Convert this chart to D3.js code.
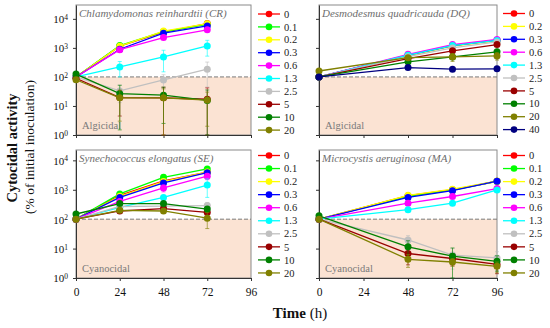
<!DOCTYPE html>
<html>
<head>
<meta charset="utf-8">
<style>
  body { margin: 0; background: #fff; }
  text { font-family: "Liberation Serif", "DejaVu Serif", serif; }
</style>
</head>
<body>
<script src="https://cdn.jsdelivr.net/npm/d3@7"></script>
<script>
// ---- data ----
var concAll = ['0', '0.1', '0.2', '0.3', '0.6', '1.3', '2.5', '5', '10', '20'];
var concDQ = ['0', '0.2', '0.3', '0.6', '1.3', '2.5', '5', '10', '20', '40'];
var timeCR = [0, 24, 48, 72];
var timeDQ = [0, 48, 72, 96];
var timeSE = [0, 24, 48, 72];
var timeMA = [0, 48, 72, 96];
var xTicks = [0, 24, 48, 72, 96];
var yTicks = [1, 10, 100, 1000, 10000];

// Chlamydomonas reinhardtii
var valCR = [
  [100, 1150, 3500, 6900],
  [100, 1200, 3600, 6500],
  [100, 1150, 3800, 6800],
  [100, 900, 3200, 5700],
  [100, 870, 2260, 4200],
  [100, 220, 490, 1170],
  [100, 33, 79, 185],
  [90, 19.5, 19, 17],
  [125, 26.5, 23.5, 15.5],
  [80, 19, 19, 16]
];
var errCR = [
  [0, 150, 400, 800],
  [0, 100, 300, 600],
  [0, 100, 300, 500],
  [0, 100, 300, 500],
  [0, 100, 300, 400],
  [0, 120, 340, 650],
  [0, 20, 40, 140],
  [0, 15, 25, 25],
  [10, 25, 21, 20],
  [5, 16, 20, 14]
];

// Desmodesmus quadricauda
var valDQ = [
  [100, 550, 1200, 1800],
  [100, 530, 1150, 1750],
  [100, 560, 1200, 1850],
  [100, 600, 1300, 1950],
  [100, 560, 1200, 1800],
  [100, 500, 1000, 1600],
  [100, 430, 790, 1300],
  [100, 330, 490, 730],
  [160, 460, 490, 530],
  [100, 210, 185, 190]
];
var errDQ = [
  [0, 0, 0, 0],
  [0, 0, 0, 0],
  [0, 0, 0, 0],
  [0, 60, 100, 150],
  [0, 50, 100, 150],
  [0, 0, 0, 0],
  [0, 0, 0, 0],
  [0, 0, 0, 100],
  [0, 0, 150, 150],
  [0, 0, 0, 0]
];

// Synechococcus elongatus
var valSE = [
  [100, 650, 2000, 4000],
  [100, 720, 2650, 5100],
  [100, 600, 1900, 4000],
  [100, 550, 1700, 3800],
  [100, 400, 1150, 2900],
  [100, 250, 550, 1450],
  [100, 270, 280, 290],
  [100, 190, 230, 170],
  [150, 340, 340, 220],
  [100, 200, 190, 108]
];
var errSE = [
  [0, 0, 0, 0],
  [0, 0, 600, 600],
  [0, 0, 0, 0],
  [0, 0, 0, 0],
  [0, 0, 300, 700],
  [0, 0, 0, 900],
  [0, 0, 0, 80],
  [0, 0, 0, 0],
  [0, 0, 0, 50],
  [0, 0, 30, 60]
];

// Microcystis aeruginosa
var valMA = [
  [100, 630, 1000, 1950],
  [100, 600, 980, 1950],
  [100, 650, 1050, 1950],
  [100, 550, 930, 1950],
  [100, 350, 590, 1100],
  [100, 210, 350, 990],
  [100, 19.6, 6, 4.8],
  [100, 6.8, 4.6, 2.9],
  [130, 11.5, 5.5, 3.7],
  [100, 4.3, 3.5, 2.5]
];
var errMA = [
  [0, 0, 0, 0],
  [0, 0, 0, 0],
  [0, 0, 0, 0],
  [0, 0, 0, 0],
  [0, 0, 0, 0],
  [0, 0, 0, 0],
  [0, 8, 4, 3],
  [0, 4, 2, 1.5],
  [0, 7, 5, 2],
  [0, 2, 1, 1]
];

// ---- styles ----
var colors = {
  '0': '#ff0000', '0.1': '#00ff00', '0.2': '#ffff00', '0.3': '#0000ff',
  '0.6': '#ff00ff', '1.3': '#00ffff', '2.5': '#c0c0c0', '5': '#990000',
  '10': '#008000', '20': '#808000', '40': '#000080'
};
var SHADE = '#fbe3d3';

var svg = d3.select('body').append('svg')
  .attr('width', 550).attr('height', 328);

var panels = [
  { title: 'Chlamydomonas reinhardtii (CR)', zone: 'Algicidal', conc: concAll, time: timeCR, val: valCR, err: errCR,
    x0: 76, x1: 251, y0: 5, y1: 135, yMax: 3e4, yLabels: true, xLabels: false, legX: 258, legY: 14, legStep: 12.9 },
  { title: 'Desmodesmus quadricauda (DQ)', zone: 'Algicidal', conc: concDQ, time: timeDQ, val: valDQ, err: errDQ,
    x0: 319, x1: 497, y0: 5, y1: 135, yMax: 3e4, yLabels: false, xLabels: false, legX: 503, legY: 13.5, legStep: 12.9 },
  { title: 'Synechococcus elongatus (SE)', zone: 'Cyanocidal', conc: concAll, time: timeSE, val: valSE, err: errSE,
    x0: 76, x1: 251, y0: 150, y1: 278, yMax: 2.25e4, yLabels: true, xLabels: true, legX: 258, legY: 155.5, legStep: 13.05 },
  { title: 'Microcystis aeruginosa (MA)', zone: 'Cyanocidal', conc: concAll, time: timeMA, val: valMA, err: errMA,
    x0: 319, x1: 497, y0: 150, y1: 278, yMax: 2.25e4, yLabels: false, xLabels: true, legX: 503, legY: 155.5, legStep: 13.05 }
];

panels.forEach(function(p) {
  var x = d3.scaleLinear().domain([0, 96]).range([p.x0, p.x1]);
  var y = d3.scaleLog().domain([1, p.yMax]).range([p.y1, p.y0]).clamp(true);
  var g = svg.append('g');

  // shaded zone below 100 %
  g.append('rect')
    .attr('x', p.x0).attr('y', y(100))
    .attr('width', p.x1 - p.x0).attr('height', p.y1 - y(100))
    .attr('fill', SHADE);

  // frame
  g.append('rect')
    .attr('x', p.x0).attr('y', p.y0)
    .attr('width', p.x1 - p.x0).attr('height', p.y1 - p.y0)
    .attr('fill', 'none').attr('stroke', '#8a8a8a').attr('stroke-width', 1);

  // dashed 100 % line
  g.append('line')
    .attr('x1', p.x0).attr('x2', p.x1)
    .attr('y1', y(100)).attr('y2', y(100))
    .attr('stroke', '#7a7a7a').attr('stroke-width', 1)
    .attr('stroke-dasharray', '4,2');

  // axes
  var xAxis = g.append('g')
    .attr('transform', 'translate(0,' + p.y1 + ')')
    .call(d3.axisBottom(x).tickValues(xTicks).tickSize(3).tickSizeOuter(0)
      .tickFormat(p.xLabels ? d3.format('d') : ''));
  xAxis.select('.domain').attr('stroke', '#333');
  xAxis.selectAll('.tick line').attr('stroke', '#333');
  xAxis.selectAll('text')
    .attr('font-size', '11.5px').attr('fill', '#111')
    .attr('font-family', '"Liberation Serif", serif')
    .attr('dy', '1.05em');

  var yAxis = g.append('g')
    .attr('transform', 'translate(' + p.x0 + ',0)')
    .call(d3.axisLeft(y).tickValues(yTicks).tickSize(3).tickSizeOuter(0).tickFormat(''));
  yAxis.select('.domain').attr('stroke', '#333');
  yAxis.selectAll('.tick line').attr('stroke', '#333');

  if (p.yLabels) {
    yAxis.selectAll('.tick').each(function(d) {
      var t = d3.select(this).append('text')
        .attr('x', -8).attr('dy', '0.35em')
        .attr('text-anchor', 'end')
        .attr('fill', '#111')
        .attr('font-size', '11px')
        .attr('font-family', '"Liberation Serif", serif');
      t.append('tspan').text('10');
      t.append('tspan').attr('dy', '-0.45em').attr('font-size', '7.5px')
        .text(Math.round(Math.log10(d)));
    });
  }

  // titles and zone labels
  g.append('text')
    .attr('x', p.x0 + 3).attr('y', p.y0 + 12)
    .attr('font-size', '11px').attr('font-style', 'italic')
    .attr('fill', '#6e6e6e')
    .text(p.title);

  g.append('text')
    .attr('x', p.x0 + 6).attr('y', p.y1 - 6)
    .attr('font-size', '10.5px')
    .attr('fill', '#7a7a7a')
    .text(p.zone);

  // series
  var line = d3.line()
    .x(function(d) { return x(d.t); })
    .y(function(d) { return y(d.v); });

  p.conc.forEach(function(c, i) {
    var pts = p.time.map(function(t, j) {
      return { t: t, v: p.val[i][j], e: p.err[i][j] };
    });
    var col = colors[c];
    var s = g.append('g');

    // error bars
    pts.filter(function(d) { return d.e > 0; }).forEach(function(d) {
      var lo = y(Math.max(1, d.v - d.e)), hi = y(d.v + d.e), cx = x(d.t);
      s.append('line').attr('x1', cx).attr('x2', cx).attr('y1', lo).attr('y2', hi)
        .attr('stroke', col).attr('stroke-width', 1).attr('opacity', 0.6);
      [lo, hi].forEach(function(yy) {
        s.append('line').attr('x1', cx - 2).attr('x2', cx + 2).attr('y1', yy).attr('y2', yy)
          .attr('stroke', col).attr('stroke-width', 1).attr('opacity', 0.6);
      });
    });

    s.append('path').datum(pts)
      .attr('d', line)
      .attr('fill', 'none')
      .attr('stroke', col)
      .attr('stroke-width', 1.3);

    s.selectAll('circle').data(pts).enter().append('circle')
      .attr('cx', function(d) { return x(d.t); })
      .attr('cy', function(d) { return y(d.v); })
      .attr('r', 3.5)
      .attr('fill', col);
  });

  // legend
  var leg = svg.append('g');
  p.conc.forEach(function(c, i) {
    var ly = p.legY + i * p.legStep;
    var col = colors[c];
    leg.append('line')
      .attr('x1', p.legX).attr('x2', p.legX + 22)
      .attr('y1', ly).attr('y2', ly)
      .attr('stroke', col).attr('stroke-width', 1.3);
    leg.append('circle')
      .attr('cx', p.legX + 11).attr('cy', ly).attr('r', 3.3)
      .attr('fill', col);
    leg.append('text')
      .attr('x', p.legX + 26).attr('y', ly).attr('dy', '0.35em')
      .attr('font-size', '10.5px').attr('fill', '#222')
      .text(c);
  });
});

// axis titles
svg.append('text')
  .attr('transform', 'translate(17,148) rotate(-90)')
  .attr('text-anchor', 'middle')
  .attr('font-size', '14.5px').attr('font-weight', 'bold')
  .attr('fill', '#111')
  .text('Cytocidal activity');

svg.append('text')
  .attr('transform', 'translate(34,147) rotate(-90)')
  .attr('text-anchor', 'middle')
  .attr('font-size', '13.5px')
  .attr('fill', '#111')
  .text('(% of initial inoculation)');

var xt = svg.append('text')
  .attr('x', 300).attr('y', 318)
  .attr('text-anchor', 'middle')
  .attr('font-size', '15px').attr('fill', '#111');
xt.append('tspan').attr('font-weight', 'bold').text('Time');
xt.append('tspan').text(' (h)');
</script>
</body>
</html>
